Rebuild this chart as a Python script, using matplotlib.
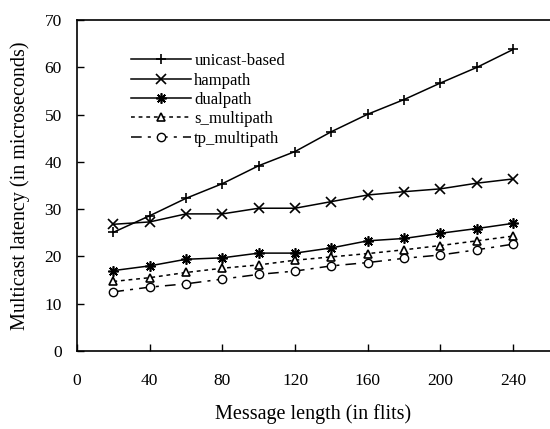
import matplotlib
matplotlib.use('Agg')
import matplotlib.pyplot as plt

plt.rcParams['font.family'] = ['Liberation Serif', 'DejaVu Serif']

# message length in flits
msg_len = [20, 40, 60, 80, 100, 120, 140, 160, 180, 200, 220, 240]

unicast_based = [25.1, 28.6, 32.3, 35.4, 39.2, 42.2, 46.4, 50.1, 53.2, 56.7, 60.0, 63.8]
hampath = [26.8, 27.3, 29.0, 29.0, 30.2, 30.2, 31.6, 33.0, 33.7, 34.3, 35.5, 36.4]
dualpath = [17.0, 18.0, 19.4, 19.7, 20.7, 20.7, 21.8, 23.3, 23.8, 24.9, 25.9, 27.0]
s_multipath = [14.7, 15.5, 16.6, 17.5, 18.2, 19.2, 19.9, 20.6, 21.4, 22.3, 23.3, 24.3]
tp_multipath = [12.5, 13.5, 14.2, 15.2, 16.2, 16.9, 18.0, 18.7, 19.6, 20.3, 21.4, 22.6]

fig = plt.figure(figsize=(5.5, 4.29), dpi=100)
ax = fig.add_axes([0.14, 0.182, 0.86, 0.771])

lw = 1.1
ax.plot(msg_len, unicast_based, color='black', lw=lw, marker='+', ms=7.5,
        mew=1.2, label='unicast-based')
ax.plot(msg_len, hampath, color='black', lw=lw, marker='x', ms=6.5,
        mew=1.2, label='hampath')
ax.plot(msg_len, dualpath, color='black', lw=lw, marker=(8, 2, 0), ms=7.5,
        mew=1.2, label='dualpath')
ax.plot(msg_len, s_multipath, color='black', lw=lw, ls=(0, (2.5, 2.5)),
        marker='^', ms=5.5, mfc='white', mew=1.2, label='s_multipath')
ax.plot(msg_len, tp_multipath, color='black', lw=lw, ls=(0, (7, 4, 2, 4)),
        marker='o', ms=6, mfc='white', mew=1.0, label='tp_multipath')

ax.set_xlim(0, 260.3)
ax.set_ylim(0, 70)
ax.set_xticks(range(0, 241, 40))
ax.set_yticks(range(0, 71, 10))
ax.spines['right'].set_visible(False)
for s in ['left', 'bottom', 'top']:
    ax.spines[s].set_linewidth(1.2)
ax.tick_params(direction='in', length=5, width=1, labelsize=12.5)
ax.tick_params(axis='x', pad=16)
ax.tick_params(axis='y', pad=11)

ax.set_xlabel('Message length (in flits)', fontsize=14.5, labelpad=11)
ax.set_ylabel('Multicast latency (in microseconds)', fontsize=14.5, labelpad=10)

ax.legend(loc='upper left', bbox_to_anchor=(0.10, 0.92), frameon=False,
          fontsize=12, handlelength=3.6, handletextpad=0.2,
          labelspacing=0.2, borderaxespad=0)

fig.savefig('out.png', dpi=100)
